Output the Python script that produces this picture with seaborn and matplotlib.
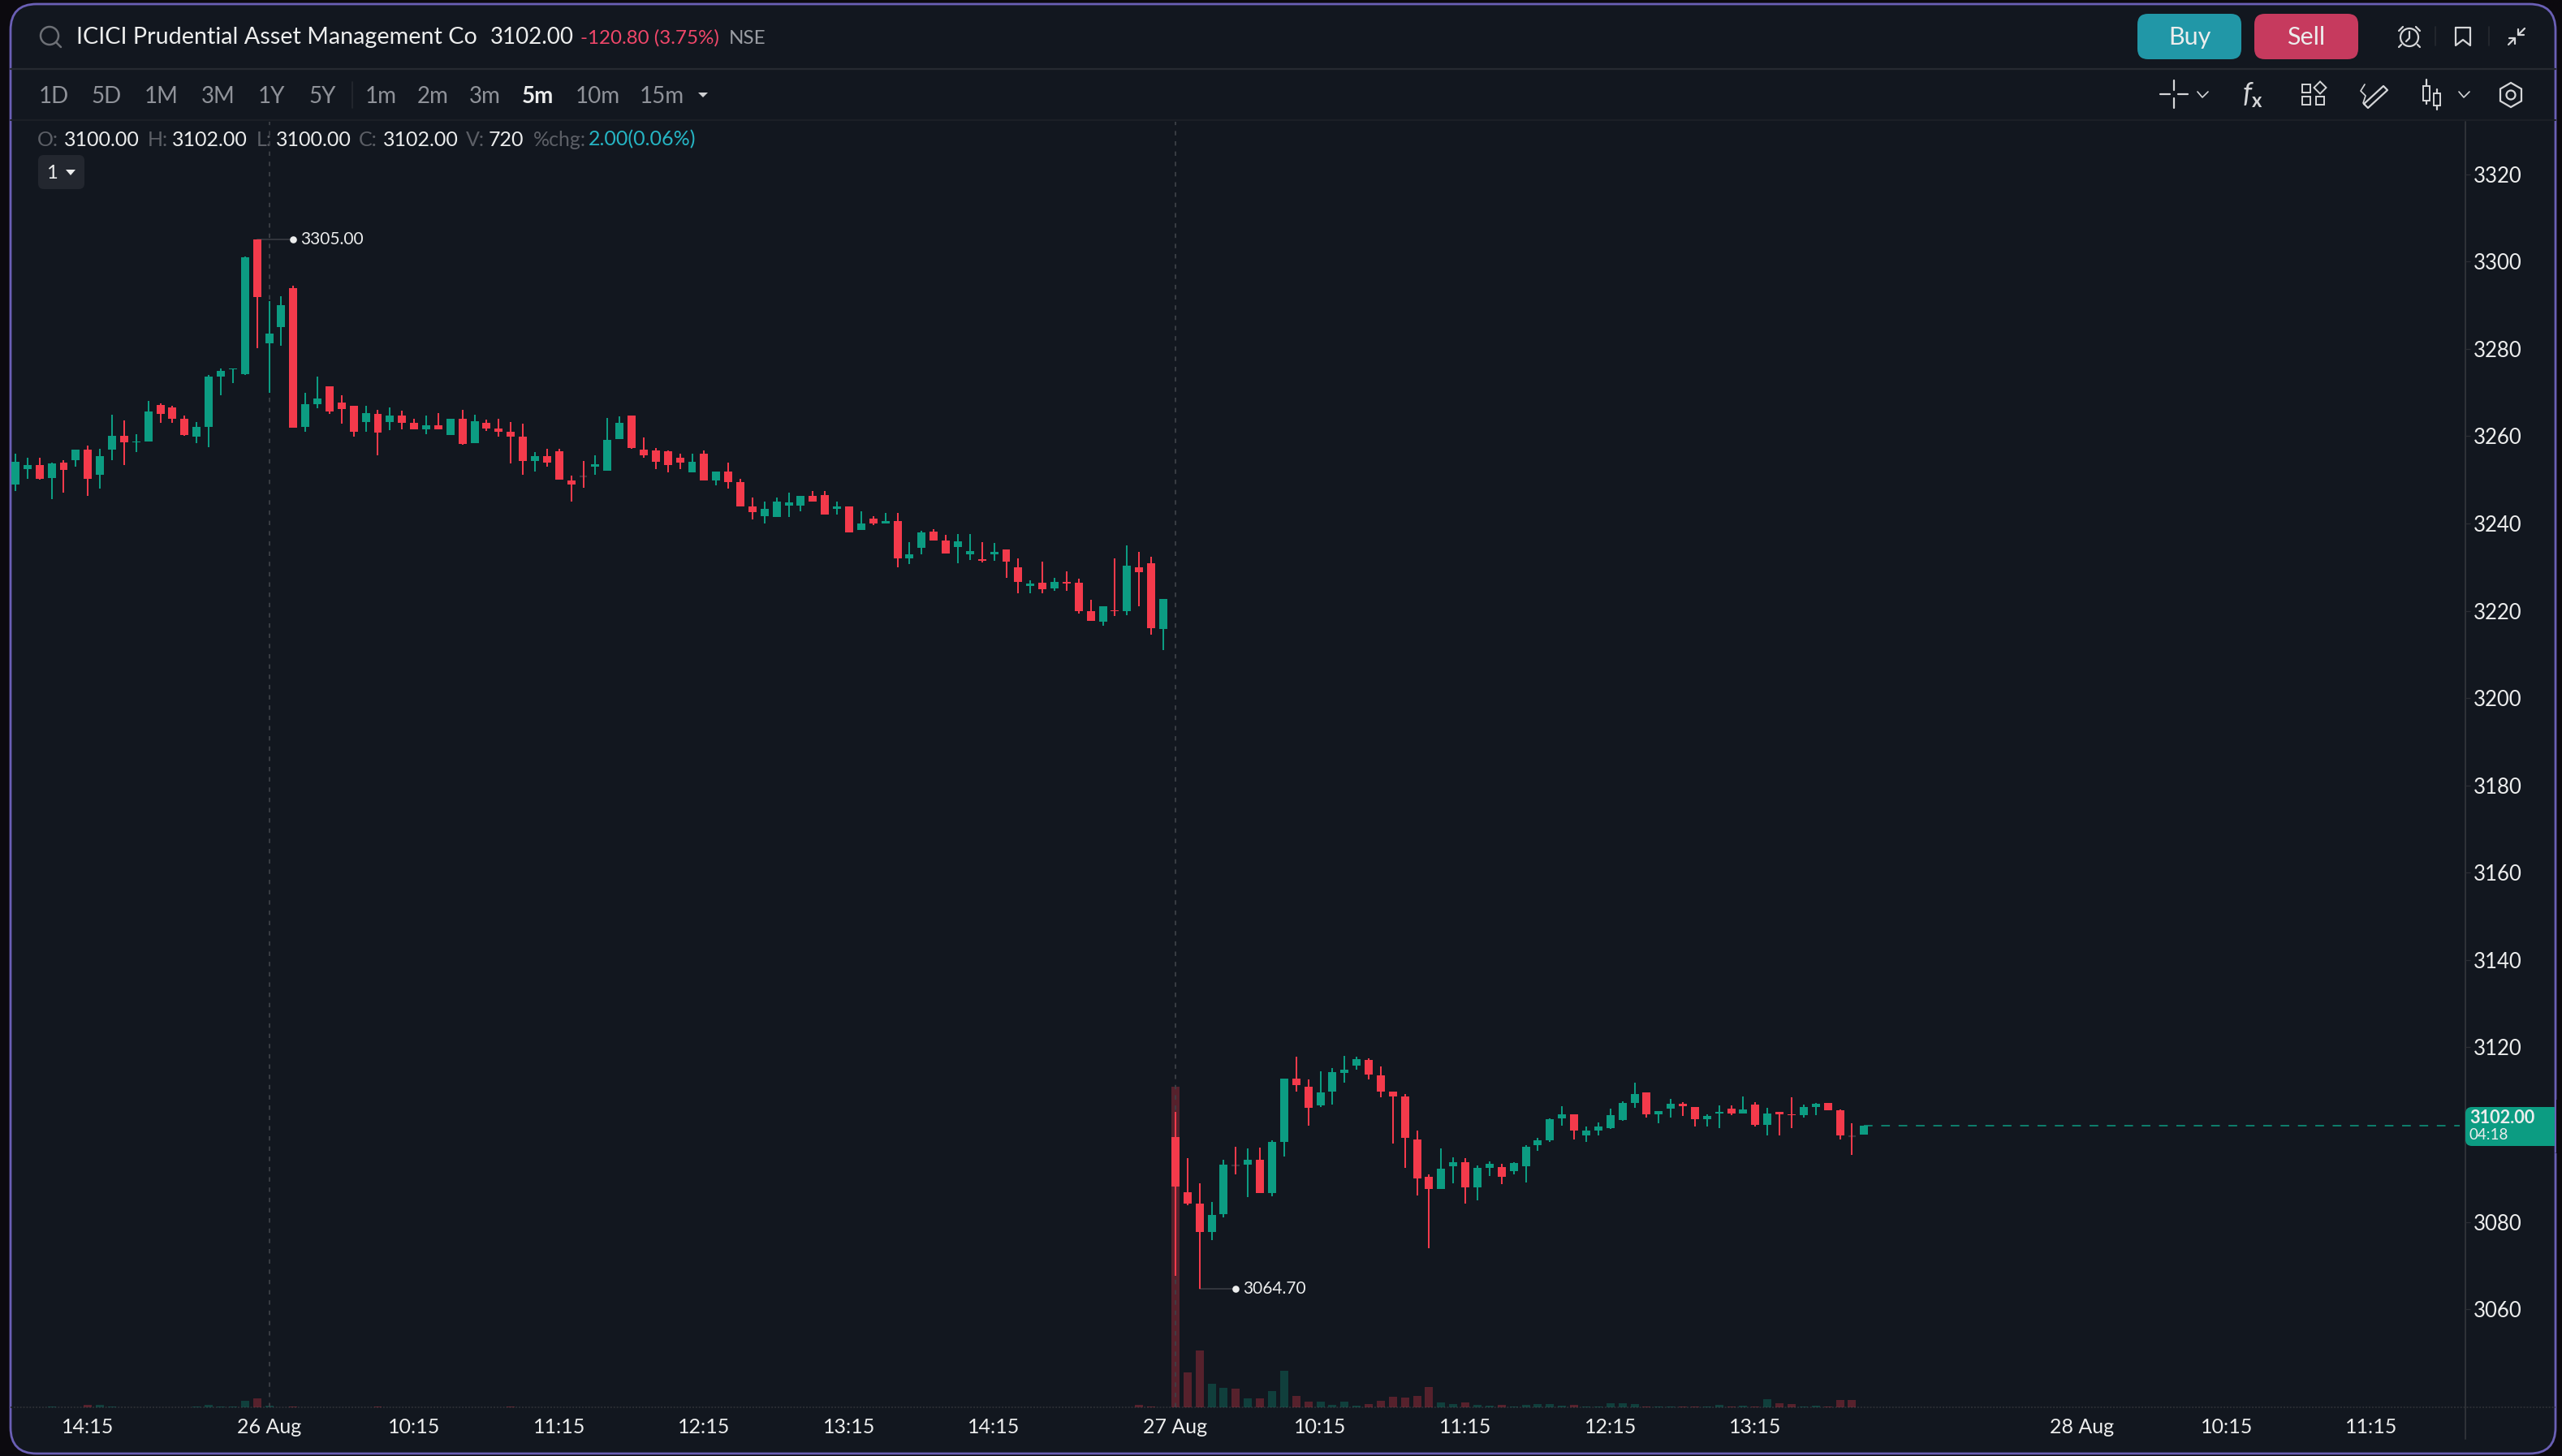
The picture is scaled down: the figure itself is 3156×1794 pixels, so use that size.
import matplotlib
matplotlib.use("Agg")
import matplotlib.pyplot as plt
from matplotlib.patches import Circle, FancyBboxPatch, Polygon, Rectangle, RegularPolygon
import pandas as pd
import seaborn as sns

W, H = 3156, 1794

# 5 minute candles
opens = [3248.9,3252.4,3253.4,3250.4,3253.9,3254.5,3256.9,3251.1,3256.9,3260.1,
         3258.6,3258.8,3267.1,3266.6,3264.0,3259.9,3262.1,3273.6,3275.3,3274.2,
         3305.0,3281.2,3284.9,3293.9,3262.1,3267.3,3271.4,3267.7,3266.9,3263.2,
         3265.1,3263.2,3264.7,3263.0,3261.5,3262.4,3260.2,3264.0,3258.4,3263.0,
         3261.7,3261.0,3259.9,3254.3,3255.4,3256.5,3249.8,3250.8,3253.0,3252.1,
         3259.3,3264.7,3256.9,3256.7,3256.5,3255.1,3251.7,3256.0,3249.8,3251.9,
         3249.5,3243.9,3241.7,3241.5,3244.1,3244.1,3246.3,3246.5,3243.3,3243.9,
         3238.5,3241.1,3240.0,3240.6,3232.0,3234.4,3238.1,3236.1,3234.6,3232.9,
         3231.8,3232.9,3234.0,3230.0,3225.7,3226.4,3225.1,3226.6,3226.4,3219.9,
         3217.5,3220.1,3219.9,3230.0,3230.9,3215.8,3099.4,3086.8,3084.2,3077.7,
         3081.8,3093.0,3093.1,3094.2,3086.6,3098.3,3112.8,3111.0,3106.7,3109.9,
         3114.1,3115.8,3117.1,3113.6,3109.9,3108.7,3098.9,3090.3,3087.5,3092.8,
         3093.7,3087.9,3092.4,3092.6,3091.6,3092.8,3097.6,3098.7,3103.7,3104.6,
         3099.8,3100.9,3101.5,3103.3,3107.2,3109.6,3104.6,3105.9,3107.0,3106.3,
         3103.5,3104.9,3105.9,3104.8,3106.8,3102.2,3105.2,3104.6,3104.4,3106.3,
         3107.2,3105.5,3099.7,3100.0]
highs = [3256.0,3255.0,3255.0,3253.9,3254.5,3256.9,3257.8,3257.1,3264.9,3263.6,
         3260.4,3268.0,3267.5,3266.9,3264.7,3263.2,3274.0,3275.5,3275.5,3301.1,
         3305.0,3290.9,3292.0,3294.4,3269.9,3273.6,3271.4,3269.3,3266.9,3266.9,
         3266.0,3266.6,3265.8,3264.0,3264.7,3265.2,3264.0,3266.0,3264.9,3263.8,
         3264.0,3263.2,3262.8,3256.3,3257.1,3257.1,3250.9,3254.3,3255.6,3264.2,
         3264.5,3264.7,3259.7,3257.3,3256.7,3256.0,3256.0,3256.7,3251.9,3253.9,
         3250.2,3245.9,3245.0,3245.9,3247.1,3246.3,3247.4,3247.4,3245.0,3243.9,
         3242.8,3241.7,3242.4,3242.4,3235.7,3238.3,3238.7,3237.4,3237.6,3237.6,
         3235.7,3235.5,3234.0,3232.0,3227.0,3231.3,3227.5,3229.0,3227.4,3222.5,
         3221.0,3232.0,3235.0,3233.5,3232.4,3222.7,3105.2,3094.6,3088.8,3084.6,
         3094.2,3097.2,3096.9,3097.0,3098.7,3112.8,3117.8,3112.6,3114.5,3115.2,
         3118.0,3117.8,3117.5,3115.6,3109.9,3109.3,3100.9,3090.9,3096.9,3094.8,
         3094.6,3092.9,3093.9,3093.3,3093.7,3097.6,3099.3,3103.7,3106.5,3104.6,
         3101.9,3102.8,3105.9,3107.6,3111.9,3109.6,3105.4,3108.1,3107.4,3106.3,
         3104.6,3106.7,3106.7,3108.7,3107.4,3106.1,3105.2,3108.5,3106.8,3107.2,
         3107.2,3105.7,3102.6,3102.0]
lows = [3247.4,3250.2,3250.0,3245.6,3247.0,3253.0,3246.3,3248.0,3254.5,3253.4,
        3256.3,3258.8,3263.0,3263.0,3260.1,3258.4,3257.5,3269.3,3272.1,3274.0,
        3280.1,3269.9,3280.7,3261.9,3261.0,3266.4,3265.1,3262.8,3259.9,3261.0,
        3255.6,3261.3,3261.5,3261.5,3260.4,3261.5,3260.2,3258.0,3258.4,3261.1,
        3259.9,3253.7,3251.1,3251.9,3253.0,3250.0,3245.0,3248.2,3251.1,3252.1,
        3259.3,3257.1,3255.1,3252.4,3251.7,3252.4,3251.7,3249.8,3248.7,3248.0,
        3243.9,3240.9,3240.0,3241.5,3241.5,3242.8,3245.0,3242.0,3242.0,3237.9,
        3238.5,3239.6,3240.0,3230.0,3230.7,3232.9,3236.1,3233.1,3230.9,3231.6,
        3231.1,3231.4,3227.5,3224.0,3224.0,3224.0,3224.6,3224.6,3219.4,3217.7,
        3216.6,3218.8,3219.0,3221.0,3214.5,3211.0,3067.6,3083.8,3064.7,3075.8,
        3081.0,3090.9,3085.7,3086.6,3085.9,3095.0,3109.9,3102.0,3106.3,3106.9,
        3111.9,3114.9,3112.6,3108.5,3098.0,3092.4,3086.1,3074.0,3087.5,3088.8,
        3084.2,3084.9,3090.5,3088.7,3090.9,3089.0,3096.3,3098.3,3102.0,3098.9,
        3098.3,3099.8,3101.3,3103.1,3106.1,3103.9,3102.6,3103.9,3104.2,3101.9,
        3101.9,3101.5,3104.4,3104.8,3101.9,3099.8,3099.8,3101.5,3103.9,3104.4,
        3105.5,3098.9,3095.3,3100.0]
closes = [3254.1,3253.4,3250.2,3253.7,3252.2,3256.9,3250.2,3255.4,3260.1,3258.6,
          3258.8,3265.6,3265.1,3264.0,3260.2,3262.1,3273.6,3274.9,3275.5,3300.9,
          3291.8,3283.5,3290.0,3261.9,3267.3,3268.6,3265.6,3266.2,3261.0,3265.2,
          3260.8,3264.7,3263.0,3261.5,3262.4,3261.5,3264.0,3258.2,3263.4,3261.7,
          3261.0,3259.9,3254.3,3255.4,3253.9,3250.0,3248.9,3250.8,3253.5,3259.1,
          3263.0,3257.3,3255.6,3254.1,3253.4,3253.9,3254.1,3249.8,3251.9,3249.5,
          3243.9,3242.6,3243.3,3245.0,3244.8,3246.3,3245.0,3242.0,3243.9,3237.9,
          3240.0,3240.0,3240.6,3232.0,3232.9,3237.9,3236.1,3233.1,3235.9,3233.7,
          3231.4,3233.5,3231.3,3226.6,3226.2,3224.9,3226.6,3226.2,3219.9,3217.7,
          3221.0,3219.9,3230.3,3228.8,3216.0,3222.7,3088.1,3084.2,3077.7,3081.6,
          3093.1,3093.0,3094.2,3086.6,3098.3,3112.8,3111.3,3106.2,3109.7,3114.3,
          3114.9,3117.3,3113.8,3109.9,3108.7,3099.3,3090.0,3087.5,3092.2,3093.7,
          3087.9,3092.4,3093.3,3090.3,3093.5,3097.2,3098.7,3103.5,3104.6,3100.9,
          3100.9,3101.9,3104.4,3107.2,3109.3,3104.6,3105.4,3107.0,3106.5,3103.5,
          3104.2,3105.2,3104.8,3105.7,3102.2,3104.8,3104.6,3104.4,3106.3,3107.0,
          3105.5,3099.8,3099.7,3102.0]
volumes = [.3,.3,.3,1,.3,.3,3,3,1,.3,
           .3,.3,.3,.3,.3,1,3,1,1,8,
           11,2,.5,1.5,.5,.3,.3,.3,.3,.3,
           1,.3,.3,.3,.3,.3,.3,.3,.3,.3,
           .3,1,.3,.3,.3,.3,.3,.3,.3,.3,
           .3,.3,.3,.3,.3,.3,.3,.3,.3,.3,
           .3,.3,.3,.3,.3,.3,.3,.3,.3,.3,
           .3,.3,.3,.3,.3,.3,.3,.3,.3,.3,
           .3,.3,.3,.3,.3,.3,.3,.3,.3,.3,
           .3,.3,.3,3,1.5,.5,395,43,70,29,
           24,23,11,11,20,45,14,7,7,3,
           7,2,4,8,13,12,14,25,6,4,
           6,3,2,3,1,3,4,4,2,3,
           1,1,5,5,4,1,1,1,1,1,
           1,3,1,2,1,10,5,4,1,2,
           1,9,9,.5]

# 3100 is hidden behind the last price tag
price_ticks = [3060,3080,3120,3140,3160,3180,3200,3220,3240,3260,3280,3300,3320]
time_ticks = [6,21,33,45,57,69,81,96,108,120,132,144,171,183,195]
time_labels = ["14:15","26 Aug","10:15","11:15","12:15","13:15","14:15","27 Aug",
               "10:15","11:15","12:15","13:15","28 Aug","10:15","11:15"]
day_starts = [21,96]
last_price = 3102.00
high_idx, high_price = 20, 3305.00
low_idx, low_price = 98, 3064.70

ranges = ["1D","5D","1M","3M","1Y","5Y"]
range_x = [48,112,178,248,318,380]
intervals = ["1m","2m","3m","5m","10m","15m"]
interval_x = [450,514,578,643,709,788]

BG = "#12171f"
GREEN = "#0c9c82"
RED = "#f43a4b"
BORDER = "#6a5fb5"
LINE = "#262a31"
DIM = "#8f9299"
FAINT = "#5c5f66"
WHITE = "#eceded"

sns.set_theme(style="dark")
plt.rcParams["font.family"] = ["Lato", "DejaVu Sans"]

fig = plt.figure(figsize=(W / 100, H / 100), dpi=100, facecolor="#0c0a0f")


def rect_for(x0, y0, x1, y1):
    return [x0 / W, 1 - y1 / H, (x1 - x0) / W, (y1 - y0) / H]


# screen chrome, drawn in pixel coordinates
ui = fig.add_axes([0, 0, 1, 1], zorder=0)
ui.set_xlim(0, W)
ui.set_ylim(H, 0)
ui.axis("off")
ui.add_patch(FancyBboxPatch((13, 5), 3135, 1786, boxstyle="round,pad=0,rounding_size=32",
                            fc=BG, ec=BORDER, lw=2))


def label(x, y, s, color=WHITE, size=18, ha="left", **kw):
    ui.text(x, y, s, color=color, fontsize=size, ha=ha, va="center", **kw)


def stroke(xs, ys, color="#d5d6d8", lw=1.6):
    ui.plot(xs, ys, color=color, lw=lw, solid_capstyle="round")


def button(x0, x1, color, s):
    ui.add_patch(FancyBboxPatch((x0, 17), x1 - x0, 56, boxstyle="round,pad=0,rounding_size=13",
                                fc=color, ec="none"))
    label((x0 + x1) / 2, 46, s, size=22, ha="center")


ui.plot([13, 3148], [85, 85], color=LINE, lw=1.6)
ui.plot([13, 3148], [148, 148], color="#1c2027", lw=1.4)
ui.plot([434, 434], [101, 133], color=LINE, lw=1.2)

# header row
ui.add_patch(Circle((61, 44), 11, fc="none", ec="#6d7076", lw=1.8))
stroke([69, 75], [52, 58], "#6d7076", 1.8)
label(94, 46, "ICICI Prudential Asset Management Co", size=20.7)
label(604, 46, "3102.00", size=20)
label(715, 47, "-120.80 (3.75%)", color="#f0476a", size=17.4)
label(898, 47, "NSE", color="#9a9da3", size=17.5)
button(2633, 2761, "#2197a7", "Buy")
button(2777, 2905, "#c63a5e", "Sell")

# alarm, bookmark and collapse icons
ui.add_patch(Circle((2968, 46), 11, fc="none", ec="#d5d6d8", lw=1.6))
stroke([2968, 2968, 2964], [39, 47, 51])
stroke([2955, 2960], [38, 33])
stroke([2981, 2976], [38, 33])
stroke([2958, 2955], [55, 58])
stroke([2978, 2981], [55, 58])
ui.plot([3000, 3000], [33, 56], color=LINE, lw=1.2)
stroke([3025, 3025, 3034, 3043, 3043, 3025], [34, 56, 49, 56, 34, 34])
ui.plot([3066, 3066], [33, 56], color=LINE, lw=1.2)
stroke([3090, 3098], [55, 47])
stroke([3091, 3098, 3098], [47, 47, 54])
stroke([3102, 3110], [43, 35])
stroke([3102, 3102, 3109], [36, 43, 43])

# timeframe row
for x, s in zip(range_x, ranges):
    label(x, 119, s, color=DIM, size=20)
for x, s in zip(interval_x, intervals):
    bold = s == "5m"
    label(x, 119, s, color=WHITE if bold else DIM, size=20, fontweight="bold" if bold else "normal")
ui.add_patch(Polygon([[860, 114], [872, 114], [866, 120]], fc="#cfd0d2", ec="none"))

# tool icons on the right
stroke([2678, 2678], [99, 111])
stroke([2678, 2678], [121, 133])
stroke([2661, 2673], [116, 116])
stroke([2683, 2695], [116, 116])
stroke([2707, 2713, 2720], [113, 120, 113], lw=1.2)
label(2768, 116, "f", size=25, ha="center", style="italic", color="#d5d6d8")
label(2780, 124, "x", size=17, ha="center", fontweight="bold", color="#d5d6d8")
for x, y in [(2836, 104), (2836, 119), (2853, 119)]:
    ui.add_patch(Rectangle((x, y), 10.5, 10.5, fc="none", ec="#d5d6d8", lw=1.4))
ui.add_patch(RegularPolygon((2858, 108), 4, radius=7.5, fc="none", ec="#d5d6d8", lw=1.4))
stroke([2912, 2936, 2941, 2917, 2912], [128, 106, 111, 133, 128])
stroke([2913, 2908, 2914, 2911], [104, 112, 118, 127], lw=1.2)
for x, top, y0, y1, bot in [(2989, 98, 106, 124, 128), (3002, 110, 115, 130, 135)]:
    stroke([x, x], [top, y0])
    stroke([x, x], [y1, bot])
    ui.add_patch(Rectangle((x - 4, y0), 8, y1 - y0, fc="none", ec="#d5d6d8", lw=1.4))
stroke([3029, 3035, 3042], [113, 120, 113], lw=1.2)
ui.add_patch(RegularPolygon((3093, 117), 6, radius=15, fc="none", ec="#d5d6d8", lw=1.6))
ui.add_patch(Circle((3093, 117), 5.5, fc="none", ec="#d5d6d8", lw=1.6))

# OHLC readout row
readout = [(46, "O:", FAINT), (79, "3100.00", WHITE), (182, "H:", FAINT), (212, "3102.00", WHITE),
           (316, "L:", FAINT), (340, "3100.00", WHITE), (442, "C:", FAINT), (472, "3102.00", WHITE),
           (574, "V:", FAINT), (602, "720", WHITE), (657, "%chg:", FAINT), (725, "2.00(0.06%)", "#26b5c4")]
for x, s, c in readout:
    label(x, 172, s, color=c, size=18)
ui.add_patch(FancyBboxPatch((47, 191), 57, 42, boxstyle="round,pad=0,rounding_size=7", fc="#23272f", ec="none"))
label(64, 213, "1", size=17, ha="center")
ui.add_patch(Polygon([[81, 209], [93, 209], [87, 216]], fc=WHITE, ec="none"))

# separator lines round the price scale and the time scale
ui.plot([3037, 3037], [150, 1773], color="#2f3238", lw=1.4)
ui.plot([13, 3148], [1734, 1734], color="#2a2d33", lw=1.4, ls=(0, (1, 1)))

# volume pane sits under the candles
plot_box = rect_for(13, 150, 3037, 1734)
vol_ax = fig.add_axes(plot_box, zorder=1)
ax = fig.add_axes(plot_box, zorder=2)
for a in (ax, vol_ax):
    a.patch.set_visible(False)

bars = list(range(len(closes)))
xlim = (-0.4, 202.76)

vol_df = pd.DataFrame({
    "bar": bars,
    "volume": volumes,
    "side": ["up" if c > o else "down" for o, c in zip(opens, closes)],
})
sns.barplot(data=vol_df, x="bar", y="volume", hue="side", palette={"up": GREEN, "down": RED},
            native_scale=True, dodge=False, width=0.67, errorbar=None, saturation=1,
            alpha=0.3, legend=False, linewidth=0, edgecolor="none", ax=vol_ax)
vol_ax.set_xlim(*xlim)
vol_ax.set_ylim(0, 1584)
vol_ax.axis("off")

# candles
for i in bars:
    o, h, l, c = opens[i], highs[i], lows[i], closes[i]
    color = GREEN if c > o else RED
    ax.vlines(i, l, h, color=color, lw=1.45, zorder=3)
    if o == c:
        ax.hlines(o, i - 0.33, i + 0.33, color="#34373e", lw=1.6, zorder=2.5)
    else:
        ax.bar(i, abs(c - o), bottom=min(o, c), width=0.67, color=color, lw=0, zorder=4)

for d in day_starts:
    ax.axvline(d, color="#3d4046", lw=1.3, ls=(0, (3, 4)), zorder=1)

# last price line
ax.plot([bars[-1], xlim[1] - 0.5], [last_price, last_price], color=GREEN, lw=1.1, ls=(0, (7, 7)), zorder=2)

# high and low markers
for idx, p in [(high_idx, high_price), (low_idx, low_price)]:
    ax.plot([idx, idx + 3], [p, p], color="#33363d", lw=1.4, zorder=2)
    ax.plot(idx + 3, p, "o", color=WHITE, ms=6.2, mew=0, zorder=5)
    ax.annotate(f"{p:.2f}", (idx + 3, p), xytext=(6.5, 0), textcoords="offset points",
                color=WHITE, fontsize=15, va="center")

ax.set_xlim(*xlim)
ax.set_ylim(3037.55, 3332.0)
ax.set_xticks(time_ticks, time_labels)
ax.set_yticks(price_ticks, [str(p) for p in price_ticks])
ax.yaxis.tick_right()
ax.tick_params(axis="y", length=4.3, width=0.9, color="#2a2d33", labelcolor=WHITE, labelsize=18.5, pad=3)
ax.tick_params(axis="x", length=4.3, width=0.9, color="#2a2d33", labelcolor=WHITE, labelsize=18, pad=5)
ax.grid(False)
ax.set_xlabel("")
ax.set_ylabel("")
for s in ax.spines.values():
    s.set_visible(False)

# price tag on the scale
ui_top = fig.add_axes([0, 0, 1, 1], zorder=3)
ui_top.set_xlim(0, W)
ui_top.set_ylim(H, 0)
ui_top.axis("off")
ui_top.patch.set_visible(False)
ui_top.add_patch(FancyBboxPatch((3037, 1364), 130, 48, boxstyle="round,pad=0,rounding_size=8", fc=GREEN, ec="none"))
ui_top.add_patch(Rectangle((3147, 1355), 30, 66, fc="#0c0a0f", ec="none"))
ui_top.plot([3148, 3148], [1355, 1420], color=BORDER, lw=1.44)
ui_top.text(3042, 1378, "3102.00", color=WHITE, fontsize=15.6, fontweight="bold", va="center")
ui_top.text(3042, 1399, "04:18", color=WHITE, fontsize=13.5, va="center")

fig.savefig("out.png", dpi=100, facecolor=fig.get_facecolor())
plt.close(fig)
